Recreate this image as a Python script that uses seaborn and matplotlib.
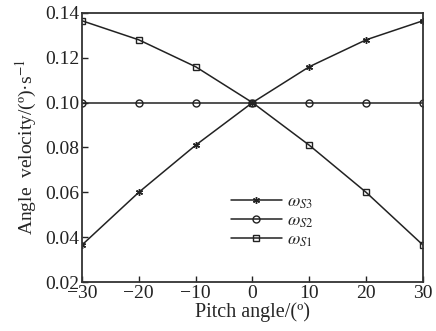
import pandas as pd
import matplotlib
matplotlib.use("Agg")
import matplotlib.pyplot as plt
import seaborn as sb

# values
pitch = [-30, -20, -10, 0, 10, 20, 30]
omega_s3 = [0.0365, 0.060, 0.081, 0.100, 0.116, 0.128, 0.1365]
omega_s2 = [0.100, 0.100, 0.100, 0.100, 0.100, 0.100, 0.100]
omega_s1 = [0.1365, 0.128, 0.116, 0.100, 0.081, 0.060, 0.0365]

sb.set_style("ticks")
plt.rcParams["font.family"] = ["Liberation Serif", "DejaVu Serif"]
plt.rcParams["mathtext.fontset"] = "stix"
plt.rcParams["xtick.direction"] = "in"
plt.rcParams["ytick.direction"] = "in"

series = [
    (omega_s3, r"$\omega_{S3}$", (6, 2, 0)),
    (omega_s2, r"$\omega_{S2}$", "o"),
    (omega_s1, r"$\omega_{S1}$", "s"),
]

fig = plt.figure(figsize=(4.36, 3.31), dpi=100)
ax = fig.add_axes([0.188, 0.148, 0.782, 0.813])

for vals, label, mk in series:
    df = pd.DataFrame({"pitch": pitch, "omega": vals})
    sb.lineplot(data=df, x="pitch", y="omega", ax=ax, color="#222222",
                linewidth=1.1, marker=mk, markersize=5,
                markerfacecolor="none", markeredgecolor="#222222",
                markeredgewidth=1.0, label=label)

ax.set_xlim(-30, 30)
ax.set_ylim(0.02, 0.14)
ax.set_xticks([-30, -20, -10, 0, 10, 20, 30])
ax.set_yticks([0.02, 0.04, 0.06, 0.08, 0.10, 0.12, 0.14])
ax.set_yticklabels(["0.02", "0.04", "0.06", "0.08", "0.10", "0.12", "0.14"])
ax.tick_params(labelsize=14, length=4, width=1, colors="#222222", pad=2)
for s in ax.spines.values():
    s.set_color("#333333")
    s.set_linewidth(1.3)

ax.set_xlabel("Pitch angle/(º)", fontsize=14.5, labelpad=0)
ax.set_ylabel("Angle  velocity/(º)·s$^{-1}$", fontsize=14, labelpad=4)

ax.legend(loc="upper left", bbox_to_anchor=(0.39, 0.39), frameon=False,
          fontsize=13, handlelength=2.8, labelspacing=0.1, handletextpad=0.3)

fig.savefig("out.png", dpi=100)
